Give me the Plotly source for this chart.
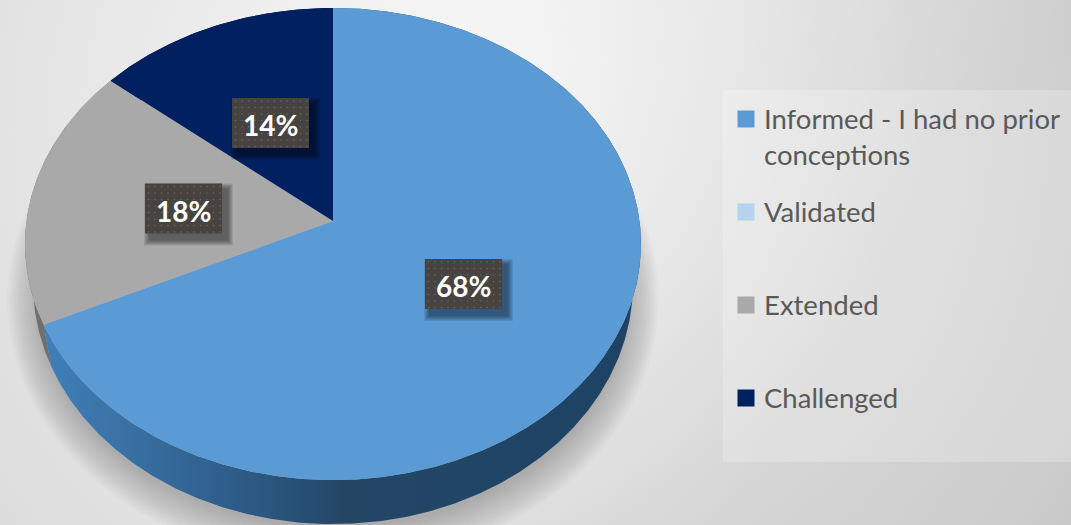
import base64
import numpy as np
import plotly.graph_objects as go

# Survey shares, clockwise from twelve o'clock
categories = ["Informed - I had no prior<br>conceptions", "Validated", "Extended", "Challenged"]
shares = [68, 0, 18, 14]
top_colors = ["#5b9bd5", "#b5d3ef", "#a9a9a9", "#002060"]
side_colors = [None, "#7f9fbd", "#6f6f6f", "#001540"]

W, H = 1071, 525
# Perspective projection of the pie disc
CX, CY, RX, RY, TILT = 333, 221, 306.5, 233.8, 0.0975
# Outline of the top face and of the underside of the pie
TOP_CY, TOP_A, TOP_B = 244, 308, 236
BASE_CY, BASE_A, BASE_B = 284, 300, 240


def project(turn):
    a = 2 * np.pi * np.asarray(turn)
    u, v = np.sin(a), np.cos(a)
    w = 1 + TILT * v
    return CX + RX * u / w, CY - RY * v / w


def to_base(x, y):
    return CX + (x - CX) * BASE_A / TOP_A, BASE_CY + (y - TOP_CY) * BASE_B / TOP_B


def turns(start, end):
    n = max(2, int((end - start) * 720))
    return np.linspace(start, end, n)


def rect_trace(x0, x1, y0, y1, color):
    return go.Scatter(x=[x0, x1, x1, x0, x0], y=[y0, y0, y1, y1, y0], mode="lines", line_width=0,
                      fill="toself", fillcolor=color, hoverinfo="skip", showlegend=False)


fig = go.Figure()

# Soft ground shadow beneath the pie
ring = np.linspace(0, 2 * np.pi, 361)
for a, b in zip(np.linspace(326, 295, 16), np.linspace(264, 228, 16)):
    fig.add_trace(go.Scatter(x=CX + a * np.cos(ring), y=300 + b * np.sin(ring), mode="lines",
                             line_width=0, fill="toself", fillcolor="rgba(50,48,46,0.018)",
                             hoverinfo="skip", showlegend=False))

# Slice boundaries as fractions of a turn
edges = np.concatenate([[0], np.cumsum(shares)]) / sum(shares)

# Rim of the pie
for i, share in enumerate(shares):
    if share == 0:
        continue
    x, y = project(turns(edges[i], edges[i + 1]))
    bx, by = to_base(x, y)
    px = np.concatenate([x, bx[::-1]])
    py = np.concatenate([y, by[::-1]])
    if i == 0:
        fig.add_trace(go.Scatter(
            x=px, y=py, mode="lines", line_width=0, fill="toself", hoverinfo="skip", showlegend=False,
            fillgradient=dict(type="horizontal", colorscale=[
                [0, "#3f7fb8"], [0.12, "#3a73a6"], [0.3, "#2f5f8c"], [0.5, "#244766"], [1, "#1d4264"]])))
    else:
        fig.add_trace(go.Scatter(x=px, y=py, mode="lines", line_width=0, fill="toself",
                                 fillcolor=side_colors[i], hoverinfo="skip", showlegend=False))

# Top faces
for i, share in enumerate(shares):
    if share == 0:
        continue
    x, y = project(turns(edges[i], edges[i + 1]))
    fig.add_trace(go.Scatter(x=np.concatenate([[CX], x, [CX]]), y=np.concatenate([[CY], y, [CY]]),
                             mode="lines", line_width=0, fill="toself", fillcolor=top_colors[i],
                             name=categories[i], hoverinfo="name", showlegend=False))

# Percentage tags with a drop shadow and a fine dot texture
tag_centers = {0: (463.5, 284), 2: (183.5, 208.5), 3: (270.5, 123)}
for i, (tx, ty) in tag_centers.items():
    for g in np.arange(6, 0, -1):
        fig.add_trace(rect_trace(tx - 38.5 + 5 - g, tx + 38.5 + 5 + g, ty - 25 + 6 - g, ty + 25 + 6 + g,
                                 "rgba(0,0,0,0.085)"))
    fig.add_trace(rect_trace(tx - 38.5, tx + 38.5, ty - 25, ty + 25, "#464341"))
    dx, dy = np.meshgrid(np.arange(tx - 35, tx + 37, 6.5), np.arange(ty - 22, ty + 24, 6.5))
    fig.add_trace(go.Scatter(x=dx.ravel(), y=dy.ravel(), mode="markers", hoverinfo="skip", showlegend=False,
                             marker=dict(size=1.6, color="#6a6662", line_width=0)))
    fig.add_annotation(x=tx, y=ty + 2, text=f"<b>{shares[i]}%</b>", showarrow=False,
                       font=dict(family="Lato", size=28, color="#ffffff"))

# Key panel
shapes = [dict(type="rect", x0=723, x1=W + 5, y0=90, y1=462, fillcolor="rgba(255,255,255,0.22)",
               line_width=0, layer="below")]

# Key entries
key_y = [119, 212, 305, 398]
fig.add_trace(go.Scatter(x=[746] * 4, y=key_y, mode="markers", hoverinfo="skip", showlegend=False,
                         marker=dict(symbol="square", size=17, color=top_colors, line_width=0)))
for label, y in zip(categories, key_y):
    fig.add_annotation(x=762, y=y - 19, text=label, showarrow=False, xanchor="left", yanchor="top",
                       align="left", font=dict(family="Lato", size=27.5, color="#595959"))

# Page backdrop
backdrop = f"""<svg xmlns='http://www.w3.org/2000/svg' width='{W}' height='{H}'>
<defs><radialGradient id='g' gradientUnits='userSpaceOnUse' cx='500' cy='130' r='780'>
<stop offset='0' stop-color='#f8f8f8'/><stop offset='0.3' stop-color='#f0f0f0'/>
<stop offset='0.66' stop-color='#e2e2e2'/><stop offset='0.85' stop-color='#dadada'/>
<stop offset='1' stop-color='#cecece'/></radialGradient>
<linearGradient id='s' gradientUnits='userSpaceOnUse' x1='300' y1='300' x2='700' y2='560'>
<stop offset='0' stop-color='#000' stop-opacity='0'/><stop offset='1' stop-color='#000' stop-opacity='0.07'/>
</linearGradient></defs>
<rect width='{W}' height='{H}' fill='url(#g)'/><rect width='{W}' height='{H}' fill='url(#s)'/></svg>"""
backdrop_uri = "data:image/svg+xml;base64," + base64.b64encode(backdrop.encode()).decode()

fig.update_layout(
    width=W, height=H, margin=dict(l=0, r=0, t=0, b=0), autosize=False,
    paper_bgcolor="#e6e6e6", plot_bgcolor="rgba(0,0,0,0)", shapes=shapes, showlegend=False,
    xaxis=dict(range=[0, W], visible=False, fixedrange=True),
    yaxis=dict(range=[H, 0], visible=False, fixedrange=True),
    images=[dict(source=backdrop_uri, xref="paper", yref="paper", x=0, y=1, sizex=1, sizey=1,
                 sizing="stretch", xanchor="left", yanchor="top", layer="below")],
)
fig.write_html("out.html", config={"displayModeBar": False})
